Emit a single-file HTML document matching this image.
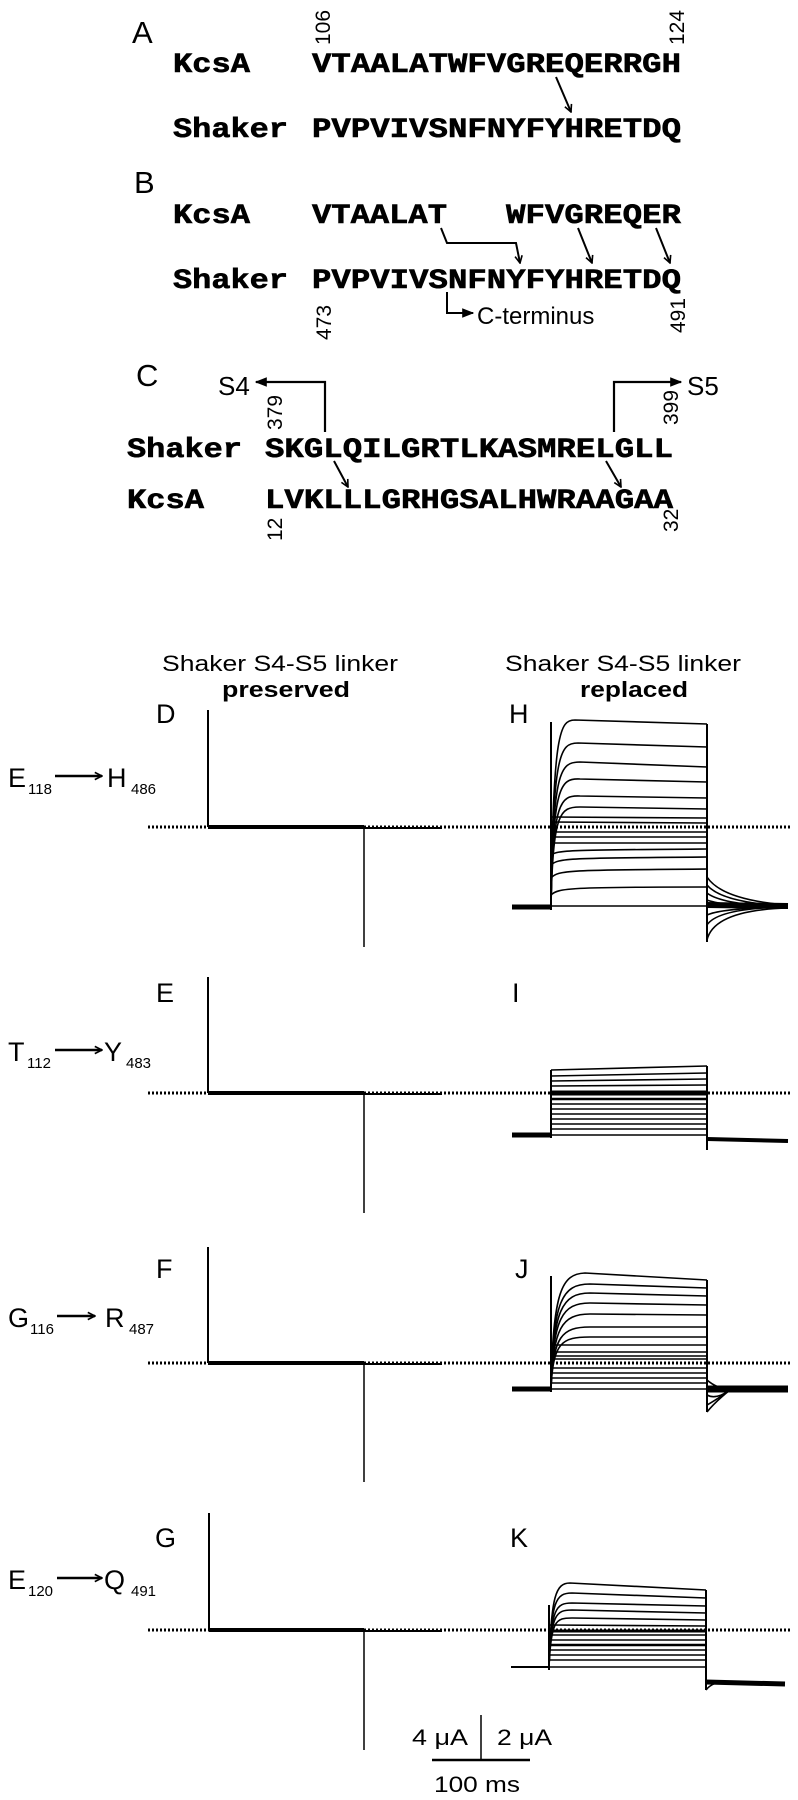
<!DOCTYPE html>
<html><head><meta charset="utf-8"><style>
html,body{margin:0;padding:0;background:#fff}
svg{display:block}
.seq{font-family:"Liberation Mono",monospace;font-weight:bold;font-size:28px;stroke:#000;stroke-width:0.6}
.lab{font-family:"Liberation Sans",sans-serif;font-size:31px}
.num{font-family:"Liberation Sans",sans-serif;font-size:21px}
.hd{font-family:"Liberation Sans",sans-serif;font-size:22px}
.mut{font-family:"Liberation Sans",sans-serif;font-size:27px}
.sub{font-family:"Liberation Sans",sans-serif;font-size:15px}
.tr{fill:none;stroke:#000;stroke-width:1.6}
</style></head><body>
<svg width="798" height="1800" viewBox="0 0 798 1800" xmlns="http://www.w3.org/2000/svg">
<defs>
<marker id="v" viewBox="0 0 10 10" refX="9" refY="5" markerWidth="9" markerHeight="9" orient="auto" markerUnits="userSpaceOnUse"><path d="M1,1 L9,5 L1,9" fill="none" stroke="#000" stroke-width="1.8"/></marker>
<marker id="t" viewBox="0 0 10 10" refX="9" refY="5" markerWidth="12" markerHeight="12" orient="auto" markerUnits="userSpaceOnUse"><path d="M0,1 L10,5 L0,9 Z" fill="#000"/></marker>
</defs>

<!-- Panel A -->
<text class="lab" x="132" y="43">A</text>
<text class="num" transform="translate(330,45) rotate(-90)">106</text>
<text class="num" transform="translate(684,45) rotate(-90)">124</text>
<text class="seq" x="173" y="72" textLength="77" lengthAdjust="spacingAndGlyphs">KcsA</text>
<text class="seq" x="312" y="72" textLength="369" lengthAdjust="spacingAndGlyphs">VTAALATWFVGREQERRGH</text>
<text class="seq" x="173" y="137" textLength="115" lengthAdjust="spacingAndGlyphs">Shaker</text>
<text class="seq" x="312" y="137" textLength="369" lengthAdjust="spacingAndGlyphs">PVPVIVSNFNYFYHRETDQ</text>
<line x1="556" y1="77" x2="571" y2="112" stroke="#000" stroke-width="2" marker-end="url(#v)"/>

<!-- Panel B -->
<text class="lab" x="134" y="193">B</text>
<text class="seq" x="173" y="223" textLength="77" lengthAdjust="spacingAndGlyphs">KcsA</text>
<text class="seq" x="312" y="223" textLength="135" lengthAdjust="spacingAndGlyphs">VTAALAT</text>
<text class="seq" x="506" y="223" textLength="175" lengthAdjust="spacingAndGlyphs">WFVGREQER</text>
<text class="seq" x="173" y="288" textLength="115" lengthAdjust="spacingAndGlyphs">Shaker</text>
<text class="seq" x="312" y="288" textLength="369" lengthAdjust="spacingAndGlyphs">PVPVIVSNFNYFYHRETDQ</text>
<path d="M441,228 L447,243 L516,243 L520,263" fill="none" stroke="#000" stroke-width="2" marker-end="url(#v)"/>
<line x1="578" y1="228" x2="592" y2="263" stroke="#000" stroke-width="2" marker-end="url(#v)"/>
<line x1="656" y1="228" x2="670" y2="263" stroke="#000" stroke-width="2" marker-end="url(#v)"/>
<path d="M447,292 L447,313 L473,313" fill="none" stroke="#000" stroke-width="2" marker-end="url(#t)"/>
<text class="num" x="477" y="324" style="font-size:24px">C-terminus</text>
<text class="num" transform="translate(331,340) rotate(-90)">473</text>
<text class="num" transform="translate(685,333) rotate(-90)">491</text>

<!-- Panel C -->
<text class="lab" x="136" y="386">C</text>
<text class="num" x="218" y="395" style="font-size:26px">S4</text>
<path d="M325,432 L325,382 L256,382" fill="none" stroke="#000" stroke-width="2.2" marker-end="url(#t)"/>
<path d="M614,432 L614,382 L681,382" fill="none" stroke="#000" stroke-width="2.2" marker-end="url(#t)"/>
<text class="num" x="687" y="395" style="font-size:26px">S5</text>
<text class="num" transform="translate(282,430) rotate(-90)">379</text>
<text class="num" transform="translate(678,425) rotate(-90)">399</text>
<text class="seq" x="127" y="457" textLength="115" lengthAdjust="spacingAndGlyphs">Shaker</text>
<text class="seq" x="265" y="457" textLength="408" lengthAdjust="spacingAndGlyphs">SKGLQILGRTLKASMRELGLL</text>
<text class="seq" x="127" y="508" textLength="77" lengthAdjust="spacingAndGlyphs">KcsA</text>
<text class="seq" x="265" y="508" textLength="408" lengthAdjust="spacingAndGlyphs">LVKLLLGRHGSALHWRAAGAA</text>
<line x1="334" y1="461" x2="348" y2="487" stroke="#000" stroke-width="2" marker-end="url(#v)"/>
<line x1="606" y1="461" x2="621" y2="487" stroke="#000" stroke-width="2" marker-end="url(#v)"/>
<text class="num" transform="translate(282,541) rotate(-90)">12</text>
<text class="num" transform="translate(678,532) rotate(-90)">32</text>

<!-- Headers -->
<text class="hd" x="280" y="671" text-anchor="middle" textLength="236" lengthAdjust="spacingAndGlyphs">Shaker S4-S5 linker</text>
<text class="hd" x="286" y="697" text-anchor="middle" font-weight="bold" textLength="128" lengthAdjust="spacingAndGlyphs">preserved</text>
<text class="hd" x="623" y="671" text-anchor="middle" textLength="236" lengthAdjust="spacingAndGlyphs">Shaker S4-S5 linker</text>
<text class="hd" x="634" y="697" text-anchor="middle" font-weight="bold" textLength="108" lengthAdjust="spacingAndGlyphs">replaced</text>

<!-- Row labels -->
<g>
<text class="mut" x="8" y="787">E</text><text class="sub" x="28" y="794">118</text>
<line x1="55" y1="776" x2="102" y2="776" stroke="#000" stroke-width="2.5" marker-end="url(#v)"/>
<text class="mut" x="107" y="787">H</text><text class="sub" x="131" y="794">486</text>
</g>
<g>
<text class="mut" x="8" y="1061">T</text><text class="sub" x="27" y="1068">112</text>
<line x1="55" y1="1050" x2="102" y2="1050" stroke="#000" stroke-width="2.5" marker-end="url(#v)"/>
<text class="mut" x="104" y="1061">Y</text><text class="sub" x="126" y="1068">483</text>
</g>
<g>
<text class="mut" x="8" y="1327">G</text><text class="sub" x="30" y="1334">116</text>
<line x1="57" y1="1316" x2="95" y2="1316" stroke="#000" stroke-width="2.5" marker-end="url(#v)"/>
<text class="mut" x="105" y="1327">R</text><text class="sub" x="129" y="1334">487</text>
</g>
<g>
<text class="mut" x="8" y="1589">E</text><text class="sub" x="28" y="1596">120</text>
<line x1="57" y1="1578" x2="102" y2="1578" stroke="#000" stroke-width="2.5" marker-end="url(#v)"/>
<text class="mut" x="104" y="1589">Q</text><text class="sub" x="131" y="1596">491</text>
</g>

<!-- Panel letters -->
<text class="mut" x="156" y="723">D</text>
<text class="mut" x="509" y="723">H</text>
<text class="mut" x="156" y="1002">E</text>
<text class="mut" x="512" y="1002">I</text>
<text class="mut" x="156" y="1278">F</text>
<text class="mut" x="515" y="1278">J</text>
<text class="mut" x="155" y="1547">G</text>
<text class="mut" x="510" y="1547">K</text>

<!-- Dotted zero lines -->
<g stroke="#000" stroke-width="3" stroke-dasharray="2,2">
<line x1="148" y1="827" x2="792" y2="827"/>
<line x1="148" y1="1093" x2="792" y2="1093"/>
<line x1="148" y1="1363" x2="792" y2="1363"/>
<line x1="148" y1="1630" x2="792" y2="1630"/>
</g>

<!-- Left traces -->
<g stroke="#000" fill="none">
<line x1="208" y1="710" x2="208" y2="827" stroke-width="2"/><line x1="208" y1="827" x2="364" y2="827" stroke-width="4"/><line x1="364" y1="828" x2="442" y2="828" stroke-width="2"/><line x1="364" y1="827" x2="364" y2="947" stroke-width="1.5"/>
<line x1="208" y1="977" x2="208" y2="1093" stroke-width="2"/><line x1="208" y1="1093" x2="364" y2="1093" stroke-width="4"/><line x1="364" y1="1094" x2="442" y2="1094" stroke-width="2"/><line x1="364" y1="1093" x2="364" y2="1213" stroke-width="1.5"/>
<line x1="208" y1="1247" x2="208" y2="1363" stroke-width="2"/><line x1="208" y1="1363" x2="364" y2="1363" stroke-width="4"/><line x1="364" y1="1364" x2="442" y2="1364" stroke-width="2"/><line x1="364" y1="1363" x2="364" y2="1482" stroke-width="1.5"/>
<line x1="209" y1="1513" x2="209" y2="1630" stroke-width="2"/><line x1="209" y1="1630" x2="364" y2="1630" stroke-width="4"/><line x1="364" y1="1631" x2="442" y2="1631" stroke-width="2"/><line x1="364" y1="1630" x2="364" y2="1750" stroke-width="1.5"/>
</g>

<!-- H traces -->
<g class="tr">
<line x1="512" y1="907" x2="551" y2="907" stroke-width="5"/>
<line x1="551" y1="722" x2="551" y2="910" stroke-width="2"/>
<line x1="707" y1="724" x2="707" y2="942" stroke-width="2"/>
<path d="M551,906 C553,730 560,720 575,720 L707,724"/>
<path d="M551,906 C553,752 560,743 578,743 L707,747"/>
<path d="M551,906 C553,770 560,762 580,762 L707,767"/>
<path d="M551,906 C553,786 560,778 580,779 L707,782"/>
<path d="M551,906 C553,802 560,795 580,796 L707,798"/>
<path d="M551,906 C553,812 560,807 580,807 L707,809"/>
<path d="M551,817 L707,818"/><path d="M551,822 L707,823"/><path d="M551,832 L707,832"/><path d="M551,837 L707,837"/><path d="M551,843 L707,843"/>
<path d="M551,855 C558,850 570,850 707,849"/><path d="M551,865 C558,858 570,858 707,857"/><path d="M551,878 C558,870 570,870 707,869"/><path d="M551,895 C558,888 570,887 707,887"/>
<path d="M551,906 L707,906"/>
<path d="M707,877 Q722,900 788,905"/><path d="M707,885 Q722,903 788,906"/><path d="M707,893 Q722,905 788,907"/><path d="M707,900 Q722,906 788,908"/>
<path d="M707,915 Q722,908 788,907"/><path d="M707,925 Q718,908 788,907"/><path d="M707,940 Q714,910 788,908"/>
<path d="M707,905 L788,906" stroke-width="6"/>
</g>

<!-- I traces -->
<g class="tr" stroke-width="1.5">
<line x1="512" y1="1135" x2="551" y2="1135" stroke-width="5"/>
<line x1="551" y1="1070" x2="551" y2="1138" stroke-width="2"/>
<line x1="707" y1="1066" x2="707" y2="1150" stroke-width="2"/>
<path d="M551,1070 L707,1066"/><path d="M551,1076 L707,1073"/><path d="M551,1081 L707,1079"/><path d="M551,1086 L707,1085"/>
<path d="M551,1093 L707,1093" stroke-width="5"/><path d="M551,1099 L707,1099" stroke-width="2.5"/>
<path d="M551,1104 L707,1104"/><path d="M551,1109 L707,1109"/><path d="M551,1114 L707,1114"/><path d="M551,1119 L707,1119"/><path d="M551,1124 L707,1124"/><path d="M551,1129 L707,1129"/><path d="M551,1135 L707,1135"/>
<path d="M707,1139 L788,1141" stroke-width="4"/>
</g>

<!-- J traces -->
<g class="tr">
<line x1="512" y1="1389" x2="551" y2="1389" stroke-width="5"/>
<line x1="551" y1="1276" x2="551" y2="1392" stroke-width="2"/>
<line x1="707" y1="1280" x2="707" y2="1412" stroke-width="2"/>
<path d="M551,1389 C553,1290 562,1274 585,1273 L707,1280"/>
<path d="M551,1389 C553,1300 562,1284 590,1284 L707,1288"/>
<path d="M551,1389 C553,1310 562,1293 590,1293 L707,1296"/>
<path d="M551,1389 C553,1318 562,1303 590,1303 L707,1305"/>
<path d="M551,1389 C553,1328 562,1314 590,1314 L707,1315"/>
<path d="M551,1389 C553,1336 562,1327 590,1327 L707,1327"/>
<path d="M551,1389 C553,1342 562,1337 590,1337 L707,1337"/>
<path d="M551,1345 L707,1345"/><path d="M551,1352 L707,1352"/><path d="M551,1356 L707,1356"/><path d="M551,1359 L707,1359"/>
<path d="M551,1368 L707,1368"/><path d="M551,1373 L707,1373"/><path d="M551,1378 L707,1378"/><path d="M551,1383 L707,1383"/><path d="M551,1389 L707,1389"/>
<path d="M707,1395 Q716,1400 730,1390"/><path d="M707,1405 Q716,1400 730,1390"/><path d="M707,1412 Q715,1402 730,1390"/><path d="M707,1380 Q716,1388 730,1390"/>
<path d="M707,1389 L788,1389" stroke-width="7"/>
</g>

<!-- K traces -->
<g class="tr" stroke-width="1.4">
<line x1="511" y1="1667" x2="549" y2="1667" stroke-width="2"/>
<line x1="549" y1="1605" x2="549" y2="1670" stroke-width="2"/>
<line x1="706" y1="1590" x2="706" y2="1690" stroke-width="2"/>
<path d="M549,1667 C551,1595 556,1583 570,1583 L706,1590"/>
<path d="M549,1667 C551,1600 556,1593 572,1593 L706,1598"/>
<path d="M549,1667 C551,1608 556,1603 572,1603 L706,1606"/>
<path d="M549,1667 C551,1614 556,1610 572,1610 L706,1613"/>
<path d="M549,1667 C551,1620 556,1618 572,1618 L706,1620"/>
<path d="M549,1625 L706,1626"/>
<path d="M549,1631 L706,1631" stroke-width="3"/>
<path d="M549,1635 L706,1635"/><path d="M549,1640 L706,1640"/><path d="M549,1645 L706,1645" stroke-width="2.5"/><path d="M549,1650 L706,1650"/><path d="M549,1655 L706,1655"/><path d="M549,1660 L706,1660"/><path d="M549,1667 L706,1667"/>
<path d="M706,1682 L785,1684" stroke-width="5"/>
<path d="M706,1690 Q712,1682 725,1682"/>
</g>

<!-- Scale bar -->
<line x1="481" y1="1715" x2="481" y2="1760" stroke="#000" stroke-width="1.5"/>
<line x1="432" y1="1760" x2="530" y2="1760" stroke="#000" stroke-width="2.5"/>
<text class="hd" x="412" y="1745" textLength="56" lengthAdjust="spacingAndGlyphs">4 μA</text>
<text class="hd" x="497" y="1745" textLength="55" lengthAdjust="spacingAndGlyphs">2 μA</text>
<text class="hd" x="434" y="1792" textLength="86" lengthAdjust="spacingAndGlyphs">100 ms</text>
</svg>
</body></html>
